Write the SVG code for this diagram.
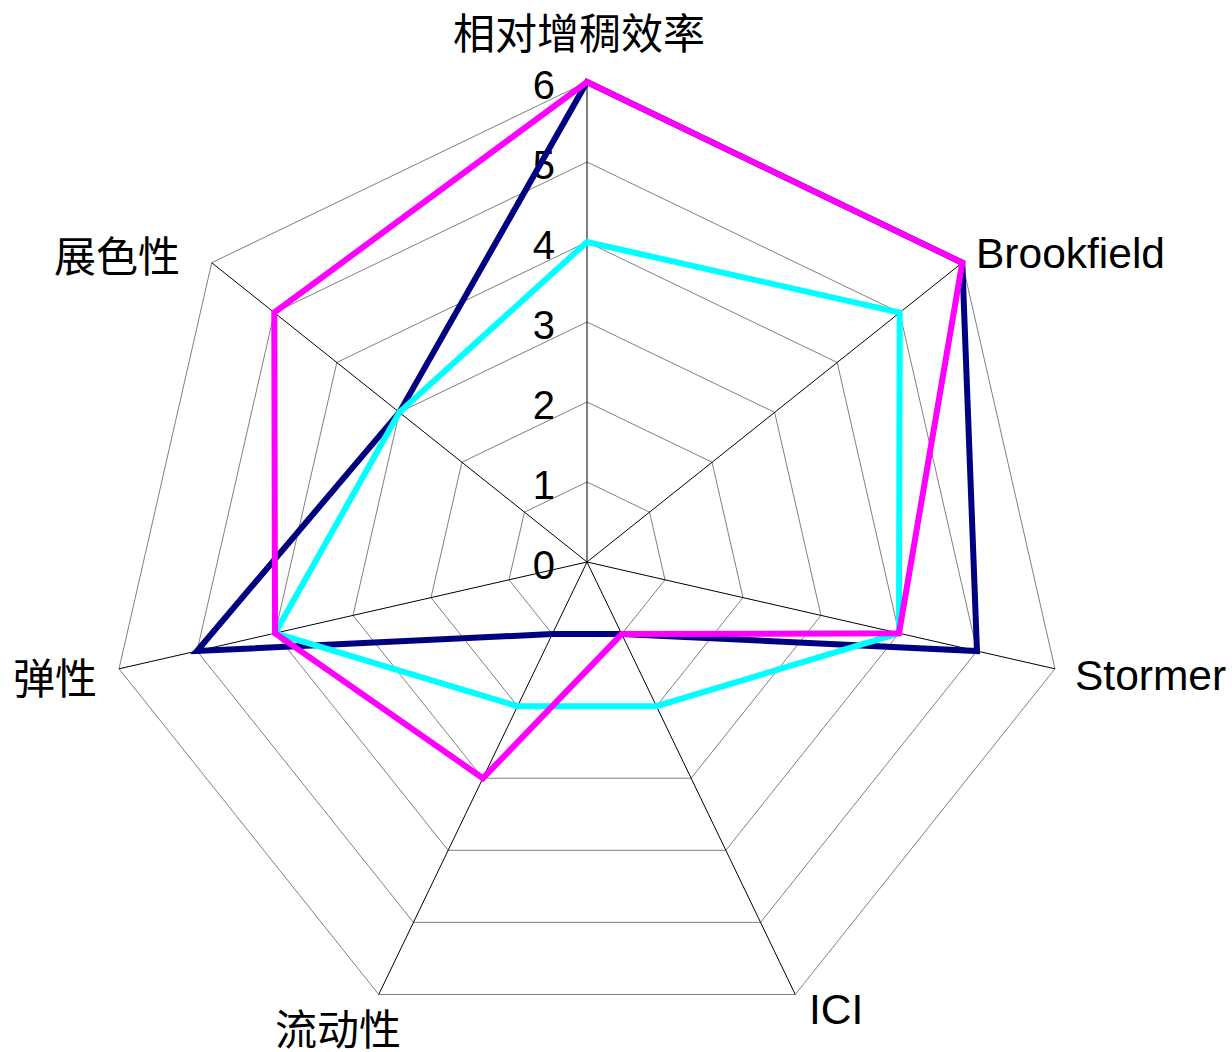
<svg xmlns="http://www.w3.org/2000/svg" width="1232" height="1052" viewBox="0 0 1232 1052">
<style>
.grid{fill:none;stroke:#808080;stroke-width:1}
.axis{stroke:#000;stroke-width:1}
.tick{font-family:"Liberation Sans",Arial,sans-serif;font-size:40px;fill:#000;text-anchor:end}
.lat{font-family:"Liberation Sans",Arial,sans-serif;font-size:42.5px;fill:#000}
.cjk{font-family:"Liberation Serif","Noto Sans CJK SC",serif;font-size:42px;fill:#000}
.series{fill:none;stroke-width:6;stroke-linejoin:miter;stroke-miterlimit:3}
</style>
<rect width="1232" height="1052" fill="#fff"/>
<g id="grid">
<polygon class="grid" points="587,482 649.55,512.12 664.99,579.8 621.71,634.08 552.29,634.08 509.01,579.8 524.45,512.12"/>
<polygon class="grid" points="587,402 712.09,462.24 742.99,597.6 656.42,706.16 517.58,706.16 431.01,597.6 461.91,462.24"/>
<polygon class="grid" points="587,322 774.64,412.36 820.98,615.41 691.13,778.23 482.87,778.23 353.02,615.41 399.36,412.36"/>
<polygon class="grid" points="587,242 837.18,362.48 898.98,633.21 725.84,850.31 448.16,850.31 275.02,633.21 336.82,362.48"/>
<polygon class="grid" points="587,162 899.73,312.61 976.97,651.01 760.55,922.39 413.45,922.39 197.03,651.01 274.27,312.61"/>
<polygon class="grid" points="587,82 962.28,262.73 1054.96,668.81 795.26,994.47 378.74,994.47 119.04,668.81 211.72,262.73"/>
</g>
<g id="axes">
<line class="axis" x1="587" y1="562" x2="587" y2="82"/>
<line class="axis" x1="587" y1="562" x2="962.28" y2="262.73"/>
<line class="axis" x1="587" y1="562" x2="1054.96" y2="668.81"/>
<line class="axis" x1="587" y1="562" x2="795.26" y2="994.47"/>
<line class="axis" x1="587" y1="562" x2="378.74" y2="994.47"/>
<line class="axis" x1="587" y1="562" x2="119.04" y2="668.81"/>
<line class="axis" x1="587" y1="562" x2="211.72" y2="262.73"/>
</g>
<g id="ticks">
<text class="tick" x="555" y="579">0</text>
<text class="tick" x="555" y="499">1</text>
<text class="tick" x="555" y="419">2</text>
<text class="tick" x="555" y="339">3</text>
<text class="tick" x="555" y="259">4</text>
<text class="tick" x="555" y="179">5</text>
<text class="tick" x="555" y="99">6</text>
</g>
<g id="connectors">
<polygon id="series-navy" class="series" stroke="#000080" points="587,82 962.28,262.73 976.97,651.01 621.71,634.08 552.29,634.08 197.03,651.01 399.36,412.36"/>
<polygon id="series-cyan" class="series" stroke="#00FFFF" points="587,242 899.73,312.61 898.98,633.21 656.42,706.16 517.58,706.16 275.02,633.21 399.36,412.36"/>
<polygon id="series-magenta" class="series" stroke="#FF00FF" points="587,82 962.28,262.73 898.98,633.21 621.71,634.08 482.87,778.23 275.02,633.21 274.27,312.61"/>
</g>
<g id="label-xiangdui"><text class="cjk" x="453" y="49">相对增稠效率</text></g>
<g id="label-brookfield"><text class="lat" x="976" y="268">Brookfield</text></g>
<g id="label-stormer"><text class="lat" x="1075" y="690">Stormer</text></g>
<g id="label-ici"><text class="lat" x="809" y="1024">ICI</text></g>
<g id="label-liudong"><text class="cjk" x="275" y="1045">流动性</text></g>
<g id="label-tanxing"><text class="cjk" x="13" y="694">弹性</text></g>
<g id="label-zhanse"><text class="cjk" x="54" y="272">展色性</text></g>
</svg>
